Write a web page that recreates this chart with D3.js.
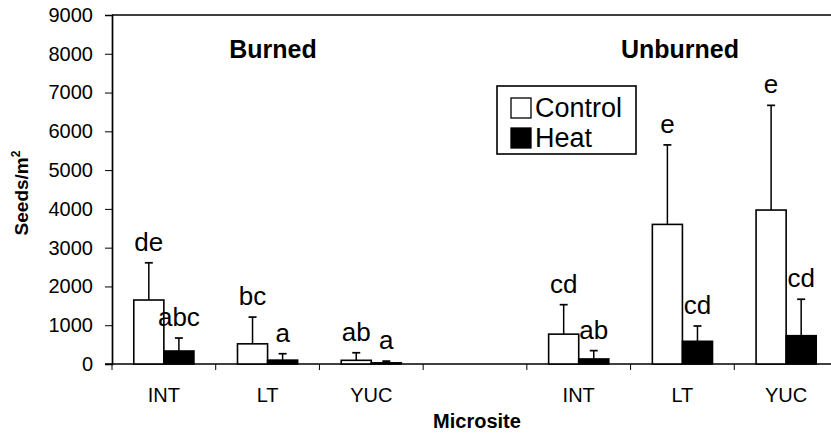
<!DOCTYPE html>
<html><head><meta charset="utf-8">
<script src="https://cdn.jsdelivr.net/npm/d3@7/dist/d3.min.js"></script>
<style>
html,body{margin:0;padding:0;background:#fff;}
svg{display:block;font-family:"Liberation Sans",Arial,sans-serif;}
</style></head>
<body><svg id="c" width="831" height="433"></svg>
<script>
// ---- data ----
const sites = ["INT","LT","YUC","","INT","LT","YUC"];
const controlMean = [1650, 520, 95, null, 770, 3600, 3970];
const controlSE   = [960, 690, 195, null, 760, 2050, 2700];
const heatMean    = [335, 100, 30, null, 130, 585, 730];
const heatSE      = [335, 165, 45, null, 215, 395, 940];
const controlLetters = ["de","bc","ab",null,"cd","e","e"];
const heatLetters    = ["abc","a","a",null,"ab","cd","cd"];
const yTicks = [0,1000,2000,3000,4000,5000,6000,7000,8000,9000];
const groupTitles = ["Burned","Unburned"];
const seriesNames = ["Control","Heat"];

const svg = d3.select("#c");
const L = 112, R = 838, T = 15, B = 364;
const idx = sites.map((d,i)=>i);
const x0 = d3.scaleBand().domain(idx).range([L,R]).paddingInner(0.42).paddingOuter(0.21);
const xs = d3.scaleBand().domain(seriesNames).range([0, x0.bandwidth()]);
const y = d3.scaleLinear().domain([0,9000]).range([B,T]);

// Y axis
const yAxis = d3.axisLeft(y).tickValues(yTicks).tickSize(7).tickPadding(12).tickFormat(d3.format("d"));
const gy = svg.append("g").attr("transform",`translate(${L},0)`).call(yAxis);
gy.attr("font-size",20).attr("font-family","Liberation Sans, Arial, sans-serif");
gy.select(".domain").attr("stroke","#000").attr("stroke-width",1.7);
gy.selectAll(".tick line").attr("stroke","#000").attr("stroke-width",1);
gy.selectAll(".tick text").attr("font-size",20).attr("fill","#000");

// top border
svg.append("line").attr("x1",L).attr("x2",R).attr("y1",y(9000)).attr("y2",y(9000))
  .attr("stroke","#000").attr("stroke-width",1.7);

// X axis line and boundary ticks
svg.append("line").attr("x1",L-7).attr("x2",R).attr("y1",B).attr("y2",B).attr("stroke","#000").attr("stroke-width",1.7);
const step = x0.step();
const bounds = idx.map(i => x0(i) - (step - x0.bandwidth())/2);
svg.selectAll(".xt").data(bounds).join("line")
  .attr("x1",d=>d).attr("x2",d=>d).attr("y1",B).attr("y2",B+6)
  .attr("stroke","#000").attr("stroke-width",1);

// x labels
svg.selectAll(".xl").data(idx.filter(i=>sites[i]!=="")).join("text")
  .attr("x",i=>x0(i)+x0.bandwidth()/2).attr("y",402)
  .attr("text-anchor","middle").attr("font-size",20).text(i=>sites[i]);

// series
const series = [
  {name:"Control", mean:controlMean, se:controlSE, letters:controlLetters, fill:"#fff"},
  {name:"Heat", mean:heatMean, se:heatSE, letters:heatLetters, fill:"#000"}
];
series.forEach(s=>{
  const data = idx.filter(i=>s.mean[i]!=null);
  const g = svg.append("g");
  const cx = i => x0(i)+xs(s.name)+xs.bandwidth()/2;
  // error bars
  g.selectAll(".eb").data(data).join("line")
    .attr("x1",cx).attr("x2",cx).attr("y1",i=>y(s.mean[i])).attr("y2",i=>y(s.mean[i]+s.se[i]))
    .attr("stroke","#000").attr("stroke-width",1.5);
  g.selectAll(".ec").data(data).join("line")
    .attr("x1",i=>cx(i)-4).attr("x2",i=>cx(i)+4).attr("y1",i=>y(s.mean[i]+s.se[i])).attr("y2",i=>y(s.mean[i]+s.se[i]))
    .attr("stroke","#000").attr("stroke-width",1.7);
  g.selectAll("rect").data(data).join("rect")
    .attr("x",i=>x0(i)+xs(s.name)).attr("width",xs.bandwidth())
    .attr("y",i=>y(s.mean[i])).attr("height",i=>B-y(s.mean[i]))
    .attr("fill",s.fill).attr("stroke","#000").attr("stroke-width",1.6);
  g.selectAll("text").data(data).join("text")
    .attr("x",cx).attr("y",i=>y(s.mean[i]+s.se[i])-12)
    .attr("text-anchor","middle").attr("font-size",26).text(i=>s.letters[i]);
});

// group titles
svg.append("text").attr("x",273).attr("y",58).attr("text-anchor","middle")
  .attr("font-size",25).attr("font-weight","bold").text(groupTitles[0]);
svg.append("text").attr("x",680).attr("y",58).attr("text-anchor","middle")
  .attr("font-size",25).attr("font-weight","bold").text(groupTitles[1]);

// legend
const lg = svg.append("g");
lg.append("rect").attr("x",497).attr("y",86).attr("width",139).attr("height",68)
  .attr("fill","#fff").attr("stroke","#000").attr("stroke-width",1.6);
series.forEach((s,k)=>{
  lg.append("rect").attr("x",511).attr("y",98+k*30).attr("width",20).attr("height",20)
    .attr("fill",s.fill).attr("stroke","#000").attr("stroke-width",1.3);
  lg.append("text").attr("x",535).attr("y",117+k*30).attr("font-size",27).text(s.name);
});

// axis titles
const yl = svg.append("text").attr("transform","translate(28,193) rotate(-90)")
  .attr("text-anchor","middle").attr("font-size",19).attr("font-weight","bold");
yl.append("tspan").text("Seeds/m");
yl.append("tspan").attr("font-size",12).attr("dy",-8).text("2");
svg.append("text").attr("x",477).attr("y",428).attr("text-anchor","middle")
  .attr("font-size",20).attr("font-weight","bold").text("Microsite");
</script></body></html>
